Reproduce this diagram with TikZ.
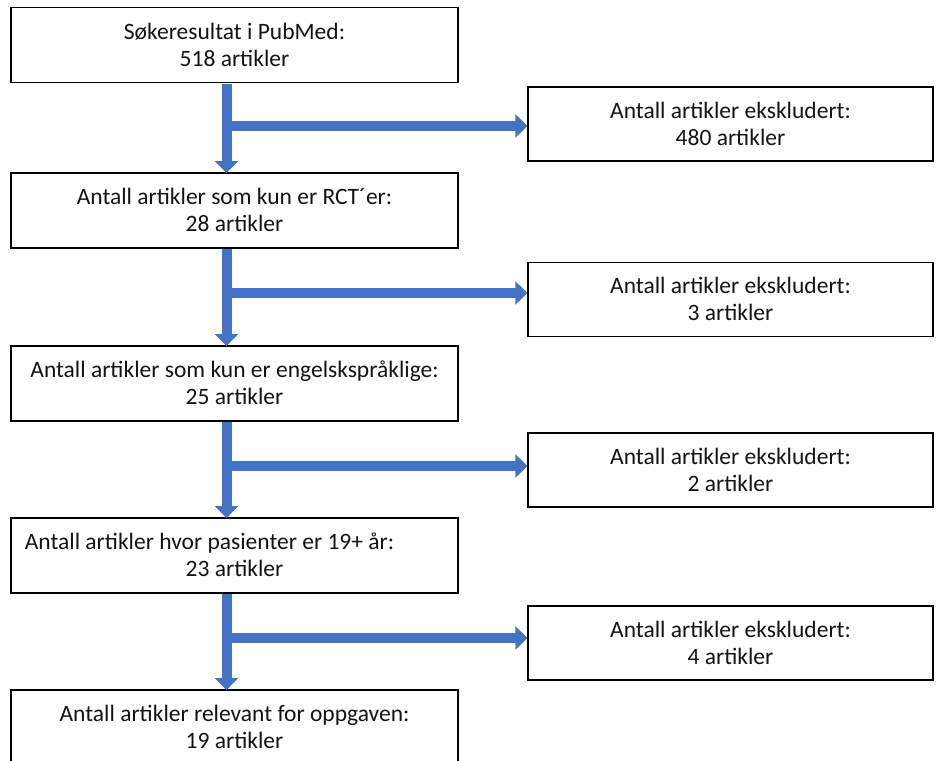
\documentclass[tikz,border=0pt]{standalone}
\usepackage{fontspec}
\setmainfont{Carlito}
\usetikzlibrary{arrows.meta}
\definecolor{arrblue}{HTML}{4472C4}
\tikzset{
  boxtext/.style={inner sep=0pt, align=center, font=\fontsize{23.5pt}{27pt}\selectfont, text=black!92, yshift=0.5pt},
  leftbox/.style={draw=black, line width=1.3pt, fill=white, minimum width=447pt, minimum height=75pt, inner sep=0pt},
  rightbox/.style={leftbox, minimum width=405pt, minimum height=74pt},
  blockarrow/.style={draw=arrblue, line width=10pt, -{Triangle[width=23pt,length=12pt]}},
}
\begin{document}
\begin{tikzpicture}[x=1pt,y=-1pt]
\useasboundingbox (0,0) rectangle (936,760);
\clip (0,0) rectangle (936,760);
% left column
\node[leftbox, label={[boxtext]center:Søkeresultat i PubMed:\\518 artikler}] (b1) at (234.5,45) {};
\node[leftbox, label={[boxtext]center:Antall artikler som kun er RCT´er:\\28 artikler}] (b2) at (234.5,210.5) {};
\node[leftbox, label={[boxtext]center:Antall artikler som kun er engelskspråklige:\\25 artikler}] (b3) at (234.5,383.5) {};
\node[leftbox, label={[boxtext]center:Antall artikler hvor pasienter er 19+ år:\hspace*{50pt}\\23 artikler}] (b4) at (234.5,555.5) {};
\node[leftbox, label={[boxtext]center:Antall artikler relevant for oppgaven:\\19 artikler}] (b5) at (234.5,727.5) {};
% right column
\node[rightbox, label={[boxtext]center:Antall artikler ekskludert:\\480 artikler}] (r1) at (730.5,124) {};
\node[rightbox, label={[boxtext]center:Antall artikler ekskludert:\\3 artikler}] (r2) at (730.5,299.5) {};
\node[rightbox, label={[boxtext]center:Antall artikler ekskludert:\\2 artikler}] (r3) at (730.5,470) {};
\node[rightbox, label={[boxtext]center:Antall artikler ekskludert:\\4 artikler}] (r4) at (730.5,643) {};
% spine x
\coordinate (ax) at (226.5,0);
\coordinate (hx) at (222,0);
% horizontal branch arrow end points
\coordinate (e1) at ([yshift=-2pt]r1.west);
\coordinate (e2) at ([yshift=6.5pt]r2.west);
\coordinate (e3) at ([yshift=4pt]r3.west);
\coordinate (e4) at ([yshift=5pt]r4.west);
\draw[blockarrow] (hx |- e1) -- (e1);
\draw[blockarrow] (hx |- e2) -- (e2);
\draw[blockarrow] (hx |- e3) -- (e3);
\draw[blockarrow] (hx |- e4) -- (e4);
% vertical arrows
\draw[blockarrow] ([yshift=-0.7pt]b1.south -| ax) -- ([yshift=-0.7pt]b2.north -| ax);
\draw[blockarrow] ([yshift=-0.7pt]b2.south -| ax) -- ([yshift=-0.7pt]b3.north -| ax);
\draw[blockarrow] ([yshift=-0.7pt]b3.south -| ax) -- ([yshift=-0.7pt]b4.north -| ax);
\draw[blockarrow] ([yshift=-0.7pt]b4.south -| ax) -- ([yshift=-0.7pt]b5.north -| ax);
\end{tikzpicture}
\end{document}
